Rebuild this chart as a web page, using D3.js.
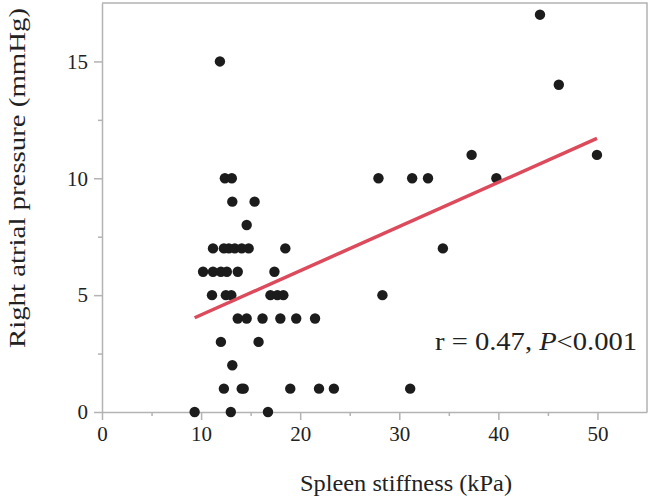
<!DOCTYPE html>
<html>
<head>
<meta charset="utf-8">
<script src="https://cdn.jsdelivr.net/npm/d3@7"></script>
<style>
  html, body { margin: 0; padding: 0; background: #fff; }
  svg { display: block; }
  text { font-family: "Liberation Serif", "Times New Roman", serif; fill: #222; }
</style>
</head>
<body>
<script>
// ---- data ----
const stiffness = [
  9.35, 13.0, 16.75,
  12.3, 14.1, 14.3, 19.0, 21.9, 23.4, 31.1,
  13.15,
  12.0, 15.8,
  13.7, 14.6, 16.2, 18.0, 19.6, 21.5,
  11.1, 12.5, 13.05, 17.0, 17.7, 18.3, 28.3,
  10.2, 11.2, 12.0, 12.6, 13.7, 17.4,
  11.2, 12.3, 12.8, 13.4, 14.1, 14.8, 18.5, 34.4,
  14.6,
  13.15, 15.4,
  12.4, 13.1, 27.9, 31.3, 32.9, 39.8,
  37.3, 49.95,
  46.1,
  11.9,
  44.2
];
const pressure = [
  0, 0, 0,
  1, 1, 1, 1, 1, 1, 1,
  2,
  3, 3,
  4, 4, 4, 4, 4, 4,
  5, 5, 5, 5, 5, 5, 5,
  6, 6, 6, 6, 6, 6,
  7, 7, 7, 7, 7, 7, 7, 7,
  8,
  9, 9,
  10, 10, 10, 10, 10, 10,
  11, 11,
  14,
  15,
  17
];
const xTicks = [0, 10, 20, 30, 40, 50];
const xMinorTicks = [5, 15, 25, 35, 45];
const yTicks = [0, 5, 10, 15];
const yMinorTicks = [2.5, 7.5, 12.5];
const fitIntercept = 2.265;
const fitSlope = 0.189;
const xTitle = "Spleen stiffness (kPa)";
const yTitle = "Right atrial pressure (mmHg)";

// ---- layout ----
const W = 652, H = 499;
const mLeft = 102, mRight = 647, mTop = 3, mBottom = 412;
const axisColor = "#b3b3b3";

const svg = d3.select("body").append("svg").attr("width", W).attr("height", H);

const x = d3.scaleLinear().domain([0, 55]).range([mLeft, mRight]);
const y = d3.scaleLinear().domain([0, 17.5]).range([mBottom, mTop]);

// frame (top and right)
svg.append("path")
  .attr("d", `M${mLeft},${mTop}H${mRight}V${mBottom}`)
  .attr("fill", "none").attr("stroke", axisColor).attr("stroke-width", 1.5);

function styleAxis(g) {
  g.select(".domain").attr("stroke", axisColor).attr("stroke-width", 1.5);
  g.selectAll(".tick line").attr("stroke", axisColor).attr("stroke-width", 1.5);
  g.selectAll("text").attr("font-size", 21).attr("fill", "#222")
    .attr("font-family", '"Liberation Serif", "Times New Roman", serif');
}

// x axis
const gx = svg.append("g").attr("transform", `translate(0,${mBottom})`)
  .call(d3.axisBottom(x).tickValues(xTicks).tickSize(8).tickPadding(6).tickSizeOuter(0));
styleAxis(gx);
const gxm = svg.append("g").attr("transform", `translate(0,${mBottom})`)
  .call(d3.axisBottom(x).tickValues(xMinorTicks).tickSize(4).tickFormat(""));
gxm.select(".domain").remove();
gxm.selectAll(".tick line").attr("stroke", axisColor).attr("stroke-width", 1.5);

// y axis
const gy = svg.append("g").attr("transform", `translate(${mLeft},0)`)
  .call(d3.axisLeft(y).tickValues(yTicks).tickSize(8).tickPadding(6).tickSizeOuter(0));
styleAxis(gy);
const gym = svg.append("g").attr("transform", `translate(${mLeft},0)`)
  .call(d3.axisLeft(y).tickValues(yMinorTicks).tickSize(4).tickFormat(""));
gym.select(".domain").remove();
gym.selectAll(".tick line").attr("stroke", axisColor).attr("stroke-width", 1.5);

// points
const pts = stiffness.map((s, i) => ({ s, p: pressure[i] }));
svg.append("g").selectAll("circle").data(pts).join("circle")
  .attr("cx", d => x(d.s)).attr("cy", d => y(d.p)).attr("r", 5.2)
  .attr("fill", "#1c1c1c");

// regression line
const xMin = d3.min(stiffness), xMax = d3.max(stiffness);
svg.append("line")
  .attr("x1", x(xMin)).attr("y1", y(fitIntercept + fitSlope * xMin))
  .attr("x2", x(xMax)).attr("y2", y(fitIntercept + fitSlope * xMax))
  .attr("stroke", "#dc4a5b").attr("stroke-width", 3.5).attr("stroke-linecap", "butt");

// annotation
const ann = svg.append("text").attr("x", 435).attr("y", 350)
  .attr("font-size", 26).attr("textLength", 202).attr("lengthAdjust", "spacingAndGlyphs");
ann.append("tspan").text("r = 0.47, ");
ann.append("tspan").attr("font-style", "italic").text("P");
ann.append("tspan").text("<0.001");

// axis titles
svg.append("text").attr("x", 406).attr("y", 491)
  .attr("text-anchor", "middle").attr("font-size", 24)
  .attr("textLength", 212).attr("lengthAdjust", "spacingAndGlyphs").text(xTitle);
svg.append("text").attr("transform", "translate(25,178) rotate(-90)")
  .attr("text-anchor", "middle").attr("font-size", 23)
  .attr("textLength", 340).attr("lengthAdjust", "spacingAndGlyphs").text(yTitle);
</script>
</body>
</html>
